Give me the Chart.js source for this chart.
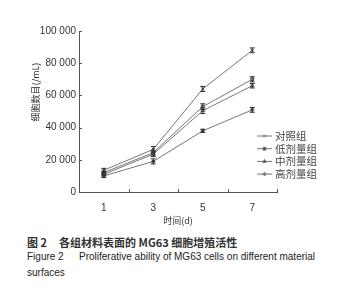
<!DOCTYPE html>
<html>
<head>
<meta charset="utf-8">
<script src="https://cdn.jsdelivr.net/npm/chart.js@4"></script>
<style>
  body { margin: 0; background: #fff; width: 358px; height: 300px; overflow: hidden; position: relative; }
  #wrap { position: absolute; left: 0; top: 0; width: 358px; height: 228px; }
  .cap { position: absolute; left: 27px; font-family: "Liberation Sans", Arial, sans-serif; font-size: 10px; color: #222; white-space: nowrap; }
  #cap1 { top: 234px; font-family: "Noto Sans CJK SC", sans-serif; font-weight: bold; font-size: 11px; color: #333; }
  #cap1 .t { position: absolute; left: 32px; }
  #cap2 { top: 251px; }
  #cap2 .t { position: absolute; left: 52px; }
  #cap3 { top: 267px; }
</style>
</head>
<body>
<div id="wrap"><canvas id="chart" width="358" height="228"></canvas></div>
<div class="cap" id="cap1">图 2<span class="t">各组材料表面的 MG63 细胞增殖活性</span></div>
<div class="cap" id="cap2">Figure 2<span class="t">Proliferative ability of MG63 cells on different material</span></div>
<div class="cap" id="cap3">surfaces</div>
<script>
// days
var days = ["1", "3", "5", "7"];
var seriesNames = ["对照组", "低剂量组", "中剂量组", "高剂量组"];
// cell counts (/mL)
var control = [13500, 26500, 64000, 88000];
var lowDose = [12000, 24500, 53000, 70000];
var midDose = [11000, 23500, 50500, 66000];
var highDose = [10000, 19000, 38000, 51000];
// error bars (+/-)
var controlErr = [1200, 1800, 1600, 1500];
var lowErr = [1000, 1500, 1800, 1600];
var midErr = [1000, 1500, 1800, 1400];
var highErr = [1000, 1600, 1000, 1500];
var yTicks = [0, 20000, 40000, 60000, 80000, 100000];

var lineColor = "#777";
var markColor = "#333";
var axisColor = "#555";
var styles = ["crossRot", "rect", "triangle", "star"];

var errorBars = {
  id: "errorBars",
  afterDatasetsDraw: function(chart) {
    var ctx = chart.ctx;
    var yScale = chart.scales.y;
    ctx.save();
    ctx.strokeStyle = markColor;
    ctx.lineWidth = 1;
    chart.data.datasets.forEach(function(ds, i) {
      var meta = chart.getDatasetMeta(i);
      meta.data.forEach(function(pt, j) {
        var top = yScale.getPixelForValue(ds.data[j] + ds.err[j]);
        var bot = yScale.getPixelForValue(ds.data[j] - ds.err[j]);
        ctx.beginPath();
        ctx.moveTo(pt.x, top); ctx.lineTo(pt.x, bot);
        ctx.moveTo(pt.x - 2.5, top); ctx.lineTo(pt.x + 2.5, top);
        ctx.moveTo(pt.x - 2.5, bot); ctx.lineTo(pt.x + 2.5, bot);
        ctx.stroke();
      });
    });
    ctx.restore();
  }
};

var extras = {
  id: "extras",
  afterDraw: function(chart) {
    var ctx = chart.ctx;
    var area = chart.chartArea;
    var xs = chart.scales.x, ys = chart.scales.y;
    // inward tick marks
    ctx.save();
    ctx.strokeStyle = axisColor;
    ctx.lineWidth = 1;
    ctx.beginPath();
    yTicks.forEach(function(v) {
      var py = Math.round(ys.getPixelForValue(v)) + 0.5;
      ctx.moveTo(area.left, py); ctx.lineTo(area.left + 3, py);
    });
    for (var i = 0; i < days.length; i++) {
      var px = i < days.length - 1 ? (xs.getPixelForValue(i) + xs.getPixelForValue(i + 1)) / 2 : area.right;
      px = Math.round(px) + 0.5;
      ctx.moveTo(px, area.bottom); ctx.lineTo(px, area.bottom - 3);
    }
    ctx.stroke();
    ctx.restore();
    // y axis title
    ctx.save();
    ctx.translate(36, 92);
    ctx.rotate(-Math.PI / 2);
    ctx.fillStyle = "#333";
    ctx.font = "9px 'Noto Sans CJK SC', sans-serif";
    ctx.textAlign = "center";
    ctx.textBaseline = "middle";
    ctx.fillText("细胞数目(/mL)", 0, 0);
    ctx.restore();
    // legend
    ctx.save();
    ctx.font = "10.5px 'Noto Sans CJK SC', serif";
    ctx.textBaseline = "middle";
    chart.data.datasets.forEach(function(ds, i) {
      var y = 136 + i * 12.7;
      ctx.strokeStyle = lineColor;
      ctx.lineWidth = 1;
      ctx.beginPath();
      ctx.moveTo(257, y); ctx.lineTo(272, y);
      ctx.stroke();
      Chart.helpers.drawPoint(ctx, { pointStyle: ds.pointStyle, radius: 2, borderWidth: 1 }, 264.5, y);
      ctx.fillStyle = "#444";
      ctx.fillText(ds.label, 275, y);
    });
    ctx.restore();
  }
};

function makeSet(label, data, err, i) {
  return {
    label: label,
    data: data,
    err: err,
    borderColor: lineColor,
    borderWidth: 1,
    pointStyle: styles[i],
    pointRadius: 2,
    pointBorderColor: markColor,
    pointBackgroundColor: "#fff",
    pointBorderWidth: 1,
    tension: 0
  };
}

new Chart(document.getElementById("chart"), {
  type: "line",
  data: {
    labels: days,
    datasets: [
      makeSet(seriesNames[0], control, controlErr, 0),
      makeSet(seriesNames[1], lowDose, lowErr, 1),
      makeSet(seriesNames[2], midDose, midErr, 2),
      makeSet(seriesNames[3], highDose, highErr, 3)
    ]
  },
  options: {
    responsive: false,
    animation: false,
    layout: { padding: { left: 0, right: 81, top: 31, bottom: 0 } },
    plugins: { legend: { display: false }, tooltip: { enabled: false } },
    scales: {
      x: {
        offset: true,
        grid: { display: false, drawTicks: false, tickLength: 0 },
        border: { color: axisColor },
        ticks: { color: "#333", font: { family: "'Liberation Sans', Arial", size: 10 }, padding: 10 },
        title: { display: true, text: "时间(d)", color: "#333", font: { family: "'Noto Sans CJK SC'", size: 9 }, padding: { top: 0, bottom: 2 } },
        afterFit: function(s) { s.height = 36; }
      },
      y: {
        min: 0,
        max: 100000,
        afterBuildTicks: function(s) { s.ticks = yTicks.map(function(v) { return { value: v }; }); },
        grid: { display: false, drawTicks: false, tickLength: 0 },
        border: { color: axisColor },
        ticks: {
          color: "#333",
          font: { family: "'Liberation Sans', Arial", size: 10 },
          padding: 3,
          callback: function(v) { return String(v).replace(/\B(?=(\d{3})+(?!\d))/g, " "); }
        },
        afterFit: function(s) { s.width = 79; }
      }
    }
  },
  plugins: [errorBars, extras]
});
</script>
</body>
</html>
